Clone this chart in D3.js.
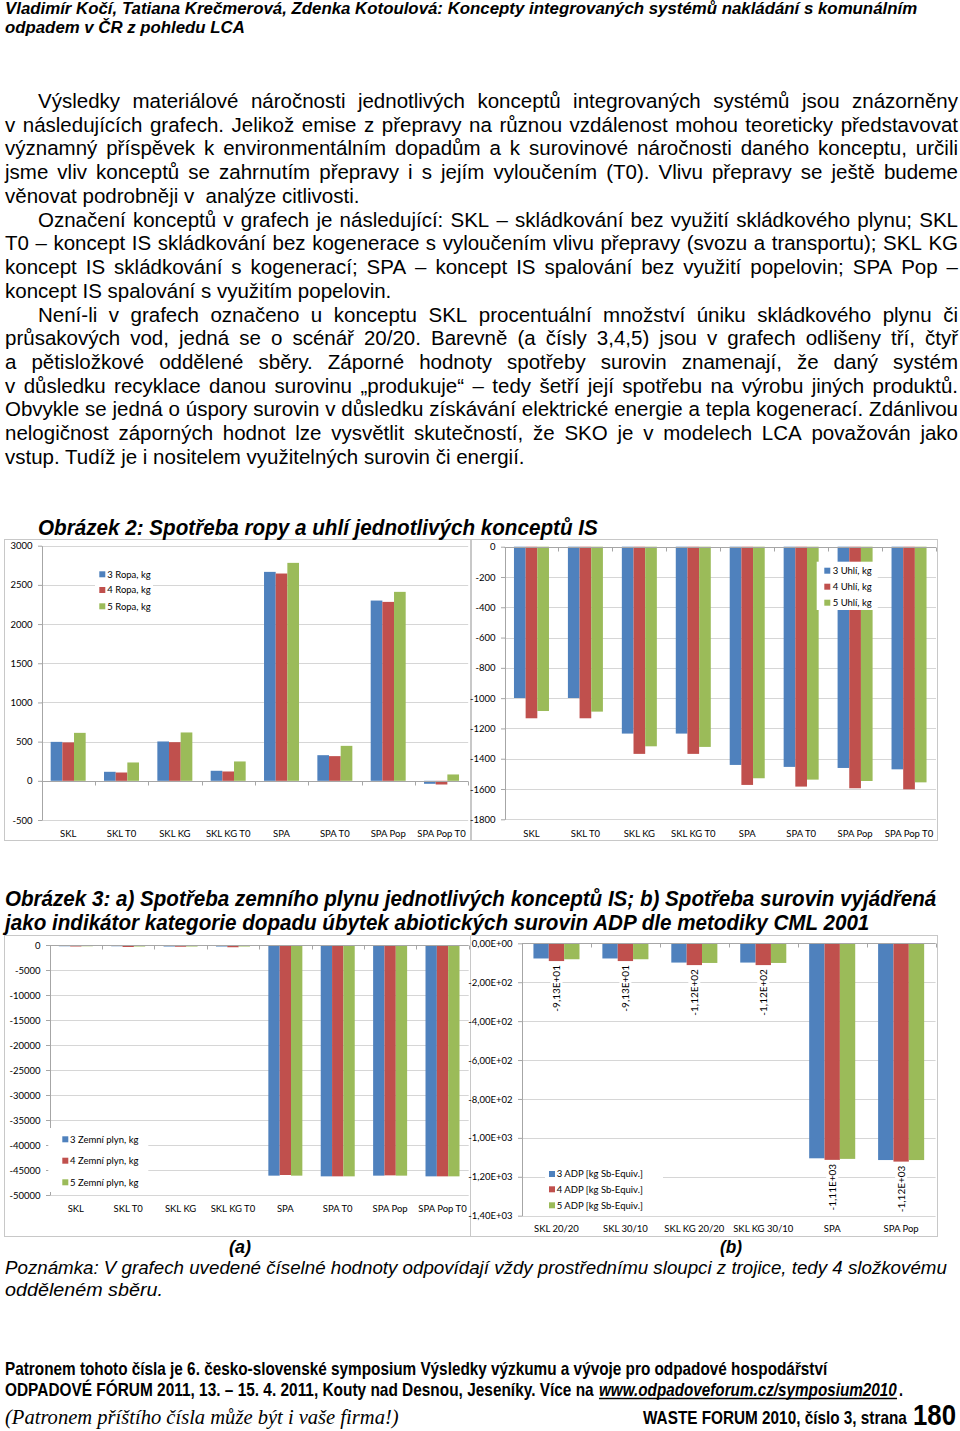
<!DOCTYPE html>
<html><head><meta charset="utf-8">
<script src="https://cdn.jsdelivr.net/npm/d3@7"></script>
<style>body{margin:0;background:#fff}svg{display:block}</style>
</head><body>
<script>
// ---------------- DATA ----------------
const categories = ["SKL","SKL T0","SKL KG","SKL KG T0","SPA","SPA T0","SPA Pop","SPA Pop T0"];
const ropa3 = [497,115,502,128,2666,327,2300,-38];
const ropa4 = [490,106,493,119,2645,315,2283,-47];
const ropa5 = [612,234,617,247,2781,446,2411,81];
const ropaNames = ["3 Ropa, kg","4 Ropa, kg","5 Ropa, kg"];
const ropaTicks = [-500,0,500,1000,1500,2000,2500,3000];

const uhli3 = [-999,-999,-1234,-1234,-1441,-1454,-1461,-1470];
const uhli4 = [-1133,-1133,-1368,-1368,-1573,-1584,-1595,-1602];
const uhli5 = [-1085,-1089,-1318,-1322,-1529,-1538,-1547,-1556];
const uhliNames = ["3 Uhlí, kg","4 Uhlí, kg","5 Uhlí, kg"];
const uhliTicks = [-1800,-1600,-1400,-1200,-1000,-800,-600,-400,-200,0];

const plyn3 = [-250,-250,-300,-300,-46130,-46270,-46130,-46270];
const plyn4 = [-300,-400,-350,-450,-46000,-46270,-46070,-46270];
const plyn5 = [-250,-300,-300,-300,-46130,-46270,-46130,-46270];
const plynNames = ["3 Zemní plyn, kg","4 Zemní plyn, kg","5 Zemní plyn, kg"];
const plynTicks = [-50000,-45000,-40000,-35000,-30000,-25000,-20000,-15000,-10000,-5000,0];

const adpCategories = ["SKL 20/20","SKL 30/10","SKL KG 20/20","SKL KG 30/10","SPA","SPA Pop"];
const adp3 = [-78,-78,-99,-99,-1105,-1114];
const adp4 = [-91.3,-91.3,-112,-112,-1113,-1122];
const adp5 = [-82,-82,-101,-101,-1108,-1114];
const adpValueLabels = ["-9,13E+01","-9,13E+01","-1,12E+02","-1,12E+02","-1,11E+03","-1,12E+03"];
const adpNames = ["3 ADP [kg Sb-Equiv.]","4 ADP [kg Sb-Equiv.]","5 ADP [kg Sb-Equiv.]"];
const adpTicks = [-1400,-1200,-1000,-800,-600,-400,-200,0];
const adpTickLabels = ["-1,40E+03","-1,20E+03","-1,00E+03","-8,00E+02","-6,00E+02","-4,00E+02","-2,00E+02","0,00E+00"];

const headerLines = ["Vladimír Kočí, Tatiana Krečmerová, Zdenka Kotoulová: Koncepty integrovaných systémů nakládání s komunálním","odpadem v ČR z pohledu LCA"];
const bodyLines = [
 "Výsledky materiálové náročnosti jednotlivých konceptů integrovaných systémů jsou znázorněny",
 "v následujících grafech. Jelikož emise z přepravy na různou vzdálenost mohou teoreticky představovat",
 "významný příspěvek k environmentálním dopadům a k surovinové náročnosti daného konceptu, určili",
 "jsme vliv konceptů se zahrnutím přepravy i s jejím vyloučením (T0). Vlivu přepravy se ještě budeme",
 "věnovat podrobněji v  analýze citlivosti.",
 "Označení konceptů v grafech je následující: SKL – skládkování bez využití skládkového plynu; SKL",
 "T0 – koncept IS skládkování bez kogenerace s vyloučením vlivu přepravy (svozu a transportu); SKL KG",
 "koncept IS skládkování s kogenerací; SPA – koncept IS spalování bez využití popelovin; SPA Pop –",
 "koncept IS spalování s využitím popelovin.",
 "Není-li v grafech označeno u konceptu SKL procentuální množství úniku skládkového plynu či",
 "průsakových vod, jedná se o scénář 20/20. Barevně (a čísly 3,4,5) jsou v grafech odlišeny tří, čtyř",
 "a pětisložkové oddělené sběry. Záporné hodnoty spotřeby surovin znamenají, že daný systém",
 "v důsledku recyklace danou surovinu „produkuje“ – tedy šetří její spotřebu na výrobu jiných produktů.",
 "Obvykle se jedná o úspory surovin v důsledku získávání elektrické energie a tepla kogenerací. Zdánlivou",
 "nelogičnost záporných hodnot lze vysvětlit skutečností, že SKO je v modelech LCA považován jako",
 "vstup. Tudíž je i nositelem využitelných surovin či energií."
];
const paragraphStarts = [0,5,9];
const paragraphEnds = [4,8,15];
const fig2Title = "Obrázek 2: Spotřeba ropy a uhlí jednotlivých konceptů IS";
const fig3Title = ["Obrázek 3: a) Spotřeba zemního plynu jednotlivých konceptů IS; b) Spotřeba surovin vyjádřená","jako indikátor kategorie dopadu úbytek abiotických surovin ADP dle metodiky CML 2001"];
const noteLines = ["Poznámka: V grafech uvedené číselné hodnoty odpovídají vždy prostřednímu sloupci z trojice, tedy 4 složkovému","odděleném sběru."];
const footerLine1 = "Patronem tohoto čísla je 6. česko-slovenské symposium Výsledky výzkumu a vývoje pro odpadové hospodářství";
const footerLine2 = "ODPADOVÉ FÓRUM 2011, 13. – 15. 4. 2011, Kouty nad Desnou, Jeseníky. Více na";
const footerLink = "www.odpadoveforum.cz/symposium2010";
const footerLine3 = "(Patronem příštího čísla může být i vaše firma!)";
const footerIssue = "WASTE FORUM 2010, číslo 3, strana";
const pageNumber = "180";

// ---------------- SETUP ----------------
const colors = ["#4F81BD","#C0504D","#9BBB59"];
const NARROW = "'Liberation Sans Narrow','Arial Narrow','Liberation Sans',Arial,sans-serif";
const SANS = "'Liberation Sans',Arial,sans-serif";
const CHART = "Lato,'Open Sans',sans-serif";

const svg = d3.select("body").append("svg").attr("width",960).attr("height",1431);
svg.append("rect").attr("width",960).attr("height",1431).attr("fill","#fff");

// draws text and scales it horizontally so that it spans exactly x0..x1
function fitText(parent, str, x0, x1, y, size, o = {}) {
  const t = parent.append("text").attr("x",0).attr("y",0).attr("font-size",size)
    .attr("font-family",o.family||NARROW).attr("font-weight",o.weight||"normal")
    .attr("font-style",o.style||"normal").attr("fill","#000").text(str);
  const w = t.node().getComputedTextLength() || 1;
  t.attr("transform",`translate(${x0},${y}) scale(${(x1-x0)/w},1)`);
  return t;
}

// header
fitText(svg, headerLines[0], 5, 918, 14, 17, {weight:"bold",style:"italic"});
fitText(svg, headerLines[1], 5, 245, 33, 17, {weight:"bold",style:"italic"});

// body text (justified)
const bodyG = svg.append("g");
bodyLines.forEach((line,i)=>{
  const y = 108 + i*23.73;
  const x0 = paragraphStarts.includes(i) ? 38 : 5;
  if (paragraphEnds.includes(i)) {
    bodyG.append("text").attr("x",x0).attr("y",y).attr("font-size",20.5)
      .attr("font-family",SANS).attr("fill","#000").attr("xml:space","preserve").text(line);
    return;
  }
  const words = line.split(/\s+/);
  const nodes = words.map(w=>bodyG.append("text").attr("y",y).attr("font-size",20.5)
      .attr("font-family",SANS).attr("fill","#000").text(w));
  const widths = nodes.map(n=>n.node().getComputedTextLength());
  const gap = Math.max(3,(958 - x0 - d3.sum(widths))/(words.length-1));
  let x = x0;
  nodes.forEach((n,k)=>{ n.attr("x",x); x += widths[k]+gap; });
});

// ---------------- CHARTS ----------------
function barChart(o) {
  const g = svg.append("g");
  g.append("rect").attr("x",o.frame[0]+0.5).attr("y",o.frame[1]+0.5)
    .attr("width",o.frame[2]-o.frame[0]).attr("height",o.frame[3]-o.frame[1])
    .attr("fill","#fff").attr("stroke","#c8c8c8");
  const x = d3.scaleBand().domain(o.categories).range([o.left,o.right])
    .paddingInner(o.pad).paddingOuter(o.pad/2);
  const xs = d3.scaleBand().domain(d3.range(o.series.length)).range([0,x.bandwidth()]);
  const y = d3.scaleLinear().domain(o.domain).range([o.bottom,o.top]);

  g.append("g").selectAll("line").data(o.ticks).join("line")
    .attr("x1",o.left).attr("x2",o.right)
    .attr("y1",d=>Math.round(y(d))+0.5).attr("y2",d=>Math.round(y(d))+0.5)
    .attr("stroke","#d6d6d6");

  const ax = d3.axisLeft(y).tickValues(o.ticks).tickSize(4).tickSizeOuter(0).tickPadding(5.5)
    .tickFormat((d,i)=>o.tickLabels ? o.tickLabels[i] : String(d));
  const axg = g.append("g").attr("transform",`translate(${Math.round(o.left)},0)`).call(ax);
  axg.select(".domain").attr("stroke","#a6a6a6");
  axg.selectAll(".tick line").attr("stroke","#a6a6a6");
  axg.selectAll(".tick text").attr("font-family",CHART).attr("font-size",9.5).attr("fill","#000");

  o.series.forEach((s,si)=>{
    g.append("g").selectAll("rect").data(s).join("rect")
      .attr("x",(d,i)=>x(o.categories[i])+xs(si))
      .attr("width",xs.bandwidth())
      .attr("y",d=>Math.min(y(d),y(0)))
      .attr("height",d=>Math.abs(y(d)-y(0)))
      .attr("fill",colors[si]);
  });

  const y0 = Math.round(y(0))+0.5;
  g.append("line").attr("x1",o.left).attr("x2",o.right).attr("y1",y0).attr("y2",y0).attr("stroke","#a6a6a6");
  g.append("g").selectAll("line").data(d3.range(o.categories.length+1)).join("line")
    .attr("x1",i=>Math.round(o.left+i*x.step())+0.5).attr("x2",i=>Math.round(o.left+i*x.step())+0.5)
    .attr("y1",y0).attr("y2",y0+4).attr("stroke","#a6a6a6");

  g.append("g").selectAll("text").data(o.categories).join("text")
    .attr("x",d=>x(d)+x.bandwidth()/2).attr("y",o.catY).attr("text-anchor","middle")
    .attr("font-family",CHART).attr("font-size",9.5).attr("fill","#000").text(d=>d);

  if (o.valueLabels) {
    const lg = g.append("g");
    o.valueLabels.forEach((lab,i)=>{
      const cx = x(o.categories[i])+xs(1)+xs.bandwidth()/2;
      const yy = y(o.series[1][i])+4;
      const t = lg.append("text").attr("transform",`translate(${cx+3.5},${yy}) rotate(-90)`)
        .attr("text-anchor","end").attr("font-family",CHART).attr("font-size",10).attr("fill","#000").text(lab);
      const w = t.node().getComputedTextLength();
      lg.insert("rect","text").attr("x",cx-6).attr("y",yy).attr("width",12).attr("height",w).attr("fill","#fff");
    });
  }

  const L = o.legend;
  const lgG = g.append("g");
  lgG.append("rect").attr("x",L.x).attr("y",L.y).attr("width",L.w).attr("height",L.h).attr("fill","#fff");
  o.names.forEach((n,i)=>{
    lgG.append("rect").attr("x",L.mx).attr("y",L.rows[i]-3).attr("width",6).attr("height",6).attr("fill",colors[i]);
    lgG.append("text").attr("x",L.tx).attr("y",L.rows[i]).attr("dy","0.35em")
      .attr("font-family",CHART).attr("font-size",9.5).attr("fill","#000").text(n);
  });
}

barChart({frame:[4,539,470,840], left:41.5, right:468.2, top:545.7, bottom:820, domain:[-500,3000],
  ticks:ropaTicks, categories:categories, series:[ropa3,ropa4,ropa5], names:ropaNames, pad:0.344, catY:836.5,
  legend:{x:95,y:565,w:58,h:49,rows:[574.3,590,606.3],mx:99.3,tx:107.3}});
barChart({frame:[471,539,937,840], left:504.5, right:936, top:546.7, bottom:819.3, domain:[-1800,0],
  ticks:uhliTicks, categories:categories, series:[uhli3,uhli4,uhli5], names:uhliNames, pad:0.351, catY:836.5,
  legend:{x:816.7,y:561.7,w:61,h:48.3,rows:[570.7,586.7,602.7],mx:824.3,tx:832.7}});
barChart({frame:[4,935,470,1236], left:49.6, right:468.7, top:945, bottom:1195, domain:[-50000,0],
  ticks:plynTicks, categories:categories, series:[plyn3,plyn4,plyn5], names:plynNames, pad:0.351, catY:1211.7,
  legend:{x:48.3,y:1128,w:100,h:64,rows:[1139.3,1160.7,1182.3],mx:62.3,tx:70}});
barChart({frame:[470,935,937,1236], left:522, right:935.6, top:943.3, bottom:1215.7, domain:[-1400,0],
  ticks:adpTicks, tickLabels:adpTickLabels, categories:adpCategories, series:[adp3,adp4,adp5], names:adpNames,
  pad:0.332, catY:1232.3, valueLabels:adpValueLabels,
  legend:{x:545,y:1166,w:118,h:47,rows:[1174,1189.3,1205.3],mx:549,tx:556.7}});

// titles (drawn over charts)
fitText(svg, fig2Title, 38, 598, 535, 22, {weight:"bold",style:"italic"});
fitText(svg, fig3Title[0], 5, 937, 906, 22, {weight:"bold",style:"italic"});
fitText(svg, fig3Title[1], 5, 870, 930, 22, {weight:"bold",style:"italic"});

fitText(svg, "(a)", 229, 251, 1253, 19, {weight:"bold",style:"italic"});
fitText(svg, "(b)", 720, 742, 1253, 19, {weight:"bold",style:"italic"});
fitText(svg, noteLines[0], 5, 947, 1274, 19, {style:"italic"});
fitText(svg, noteLines[1], 5, 163, 1296, 19, {style:"italic"});

// footer
fitText(svg, footerLine1, 5, 828, 1375, 18, {weight:"bold"});
fitText(svg, footerLine2, 5, 594, 1396, 18, {weight:"bold"});
fitText(svg, footerLink, 599, 897, 1396, 18, {weight:"bold",style:"italic"});
svg.append("line").attr("x1",599).attr("x2",897).attr("y1",1398.5).attr("y2",1398.5).attr("stroke","#000").attr("stroke-width",1.3);
fitText(svg, ".", 899, 903, 1396, 18, {weight:"bold"});
fitText(svg, footerLine3, 5, 399, 1424, 20, {family:"'Liberation Serif','Times New Roman',serif",style:"italic"});
fitText(svg, footerIssue, 643, 907, 1424, 18, {weight:"bold"});
fitText(svg, pageNumber, 913, 956, 1425, 29, {weight:"bold"});
</script>
</body></html>
